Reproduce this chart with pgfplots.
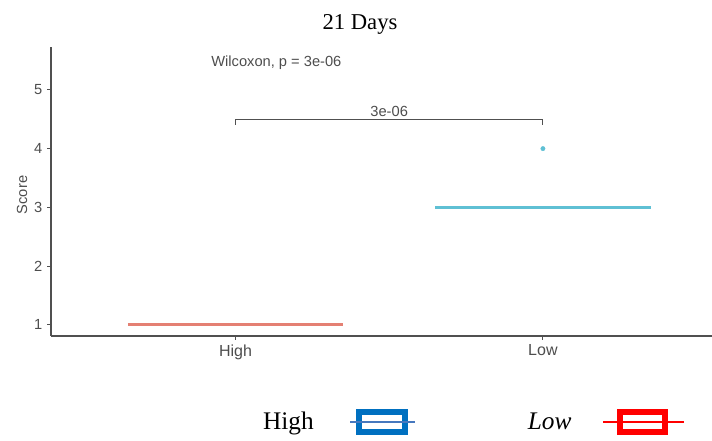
\documentclass[border=0pt]{standalone}
\usepackage{fontspec}
\setmainfont{Liberation Serif}
\setsansfont{Liberation Sans}
\usepackage{pgfplots}
\pgfplotsset{compat=1.18}
\definecolor{hiline}{RGB}{228,128,115}
\definecolor{loline}{RGB}{95,192,212}
\definecolor{txtgray}{RGB}{77,77,77}
\definecolor{axgray}{RGB}{80,80,80}
\definecolor{legblue}{RGB}{0,112,192}
\definecolor{legblueline}{RGB}{70,120,190}
\definecolor{legred}{RGB}{255,0,0}
\begin{document}
\begin{tikzpicture}
\path[use as bounding box] (0pt,0pt) rectangle (534pt,330.75pt);
\begin{axis}[
  at={(38.25pt,78.75pt)}, anchor=south west,
  scale only axis, width=495.75pt, height=216.75pt,
  xmin=-0.6, xmax=1.55, ymin=0.81, ymax=5.73,
  axis lines*=left, axis line style={axgray, line width=0.9pt, -},
  xtick={0,1}, xticklabels={High,Low},
  ytick={1,2,3,4,5},
  tick style={axgray, line width=0.8pt},
  tick align=outside, major tick length=3pt,
  ticklabel style={txtgray},
  xticklabel style={font=\sffamily\fontsize{12}{14}\selectfont},
  yticklabel style={font=\sffamily\fontsize{11}{13}\selectfont},
  /pgf/number format/assume math mode=true,
  ylabel={Score},
  ylabel style={at={(axis description cs:-0.0439,0.488)}, anchor=center, txtgray, font=\sffamily\fontsize{11}{13}\selectfont},
  title={21 Days},
  title style={at={(axis description cs:0.4675,1.052)}, anchor=center, font=\fontsize{17}{20}\selectfont},
  clip=false,
  legend plot pos=right,
  legend style={at={(axis description cs:0.638,-0.2976)}, anchor=center, draw=none, fill=none,
    legend columns=2, font=\fontsize{19}{22}\selectfont,
    /tikz/every even column/.append style={column sep=82pt}},
]
\addlegendimage{legend image code/.code={
  \path (0pt,0pt);
  \draw[legblue, line width=4.5pt] (31.75pt,-7.75pt) rectangle (66.25pt,7.75pt);
  \draw[legblueline, line width=1.2pt] (25pt,0pt) -- (73.75pt,0pt);
}}
\addlegendentry{High}
\addlegendimage{legend image code/.code={
  \path (0pt,0pt);
  \draw[legred, line width=4.5pt] (34.25pt,-7.75pt) rectangle (68pt,7.75pt);
  \draw[legred, line width=1.2pt] (21.5pt,0pt) -- (82.25pt,0pt);
}}
\addlegendentry{\textit{Low}}

\addplot[hiline, line width=2.2pt, forget plot] coordinates {(-0.35,1) (0.35,1)};
\addplot[loline, line width=2.2pt, forget plot] coordinates {(0.65,3) (1.35,3)};
\addplot[only marks, mark=*, mark size=1.6pt, loline, forget plot] coordinates {(1,4)};
\addplot[axgray, line width=0.8pt, forget plot] coordinates {(0,4.41) (0,4.5) (1,4.5) (1,4.41)};
\node[txtgray, font=\sffamily\fontsize{11}{13}\selectfont, anchor=south, inner sep=1.5pt] at (axis cs:0.5,4.5) {3e-06};
\node[txtgray, font=\sffamily\fontsize{11}{13}\selectfont, anchor=center] at (axis cs:0.133,5.46) {Wilcoxon, p = 3e-06};
\end{axis}
\end{tikzpicture}
\end{document}
